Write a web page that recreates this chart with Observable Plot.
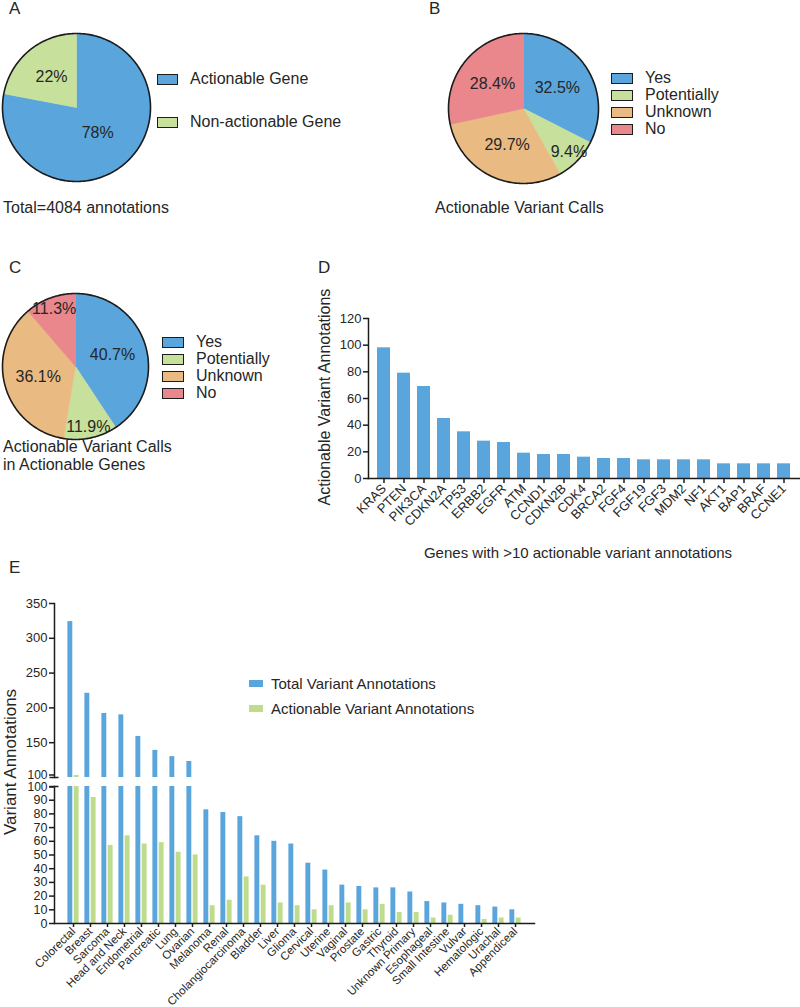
<!DOCTYPE html>
<html><head><meta charset="utf-8">
<script src="https://cdn.jsdelivr.net/npm/d3@7"></script>
<script src="https://cdn.jsdelivr.net/npm/@observablehq/plot@0.6"></script>
<style>
body{margin:0;background:#fff;font-family:"Liberation Sans",Arial,sans-serif;color:#262626;}
#root{position:relative;width:800px;height:1007px;overflow:hidden;background:#fff;}
.t{position:absolute;white-space:nowrap;line-height:1;}
.lg{position:absolute;}
.row{display:flex;align-items:center;white-space:nowrap;}
.sw{display:inline-block;box-sizing:border-box;flex:none;}
</style></head><body><div id="root"></div>
<script>
// ---------- DATA ----------
const geneCats = ["Actionable Gene", "Non-actionable Gene"];
const geneShare = [78, 22];
const callCats = ["Yes", "Potentially", "Unknown", "No"];
const callShare = [32.5, 9.4, 29.7, 28.4];
const callGeneShare = [40.7, 11.9, 36.1, 11.3];

const genes = ["KRAS","PTEN","PIK3CA","CDKN2A","TP53","ERBB2","EGFR","ATM","CCND1","CDKN2B","CDK4","BRCA2","FGF4","FGF19","FGF3","MDM2","NF1","AKT1","BAP1","BRAF","CCNE1"];
const geneCounts = [98,79,69,45,35,28,27,19,18,18,16,15,15,14,14,14,14,11,11,11,11];
const geneTicks = [0,20,40,60,80,100,120];

const cancers = ["Colorectal","Breast","Sarcoma","Head and Neck","Endometrial","Pancreatic","Lung","Ovarian","Melanoma","Renal","Cholangiocarcinoma","Bladder","Liver","Glioma","Cervical","Uterine","Vaginal","Prostate","Gastric","Thyroid","Unknown Primary","Esophageal","Small Intestine","Vulvar","Hematologic","Urachal","Appendiceal"];
const totalAnn = [324,221,192,190,159,139,130,123,83,81,78,64,60,58,44,39,28,27,26,26,23,16,15,14,13,12,10];
const actionAnn = [103,92,57,64,58,59,52,50,13,17,34,28,15,13,10,13,15,10,14,8,8,4,6,0,3,4,4];
const seriesE = ["Total Variant Annotations","Actionable Variant Annotations"];
const upperTicks = [100,150,200,250,300,350];
const lowerTicks = [0,10,20,30,40,50,60,70,80,90,100];
const breakTick = [100];

// ---------- STYLE ----------
const BLUE = "#5aa5dc", GREEN = "#c7e19c", TAN = "#e9bb83", PINK = "#e9878c", EGREEN = "#bfdc8c";
const INK = "#1c1c1c";
const FONT = "Liberation Sans, Arial, sans-serif";
const root = document.getElementById("root");

function place(el, left, top){ el.style.position="absolute"; el.style.left=left+"px"; el.style.top=top+"px"; el.style.overflow="visible"; root.appendChild(el); return el; }
function txt(s, left, top, fs, extra){ const d=document.createElement("div"); d.className="t"; d.textContent=s; d.style.left=left+"px"; d.style.top=top+"px"; d.style.fontSize=fs+"px"; if(extra) Object.assign(d.style, extra); root.appendChild(d); return d; }
function vtxt(s, cx, cy, fs){ const d=txt(s, cx, cy, fs); d.style.transform="translate(-50%,-50%) rotate(-90deg)"; return d; }
function legend(cats, colors, o){
  const box=document.createElement("div"); box.className="lg"; box.style.left=o.left+"px"; box.style.top=o.top+"px";
  cats.forEach((c,i)=>{
    const r=document.createElement("div"); r.className="row"; r.style.height=o.rowH+"px"; r.style.fontSize=o.fs+"px";
    const s=document.createElement("span"); s.className="sw"; s.style.width=o.sw+"px"; s.style.height=o.sh+"px"; s.style.background=colors[i]; s.style.marginRight=o.gap+"px";
    if(o.border) s.style.border=o.border;
    r.appendChild(s); const t=document.createElement("span"); t.textContent=c; r.appendChild(t); box.appendChild(r);
  });
  root.appendChild(box);
}

function pieChart(cats, values, colors, size){
  const total = d3.sum(values);
  let acc = 0; const slices = [];
  cats.forEach((c,i)=>{ const a0=acc/total*2*Math.PI; acc+=values[i]; const a1=acc/total*2*Math.PI; slices.push({cat:c, value:values[i], a0, a1}); });
  const poly = slices.flatMap(s=>{
    const n = Math.max(2, Math.ceil((s.a1-s.a0)*180/Math.PI));
    const arc = d3.range(n+1).map(k=>{ const a=s.a0+(s.a1-s.a0)*k/n; return {cat:s.cat, x:Math.sin(a), y:Math.cos(a)}; });
    return [{cat:s.cat,x:0,y:0}, ...arc, {cat:s.cat,x:0,y:0}];
  });
  const ring = d3.range(361).map(k=>({x:Math.sin(k*Math.PI/180), y:Math.cos(k*Math.PI/180)}));
  const labels = slices.map(s=>{
    const f=(s.a1-s.a0)/(2*Math.PI), m=(s.a0+s.a1)/2;
    const lr = f<0.15 ? 0.84 : f>0.6 ? 0.45 : 0.53;
    return {x:lr*Math.sin(m), y:lr*Math.cos(m), label:`${s.value}%`};
  });
  return Plot.plot({
    width:size, height:size, margin:2,
    x:{domain:[-1,1], axis:null}, y:{domain:[-1,1], axis:null},
    color:{domain:cats, range:colors},
    style:{fontFamily:FONT, background:"transparent", overflow:"visible"},
    marks:[
      Plot.line(poly, {x:"x", y:"y", z:"cat", fill:"cat", stroke:"cat", strokeWidth:0.6}),
      Plot.line(ring, {x:"x", y:"y", stroke:INK, strokeWidth:1.6}),
      Plot.text(labels, {x:"x", y:"y", text:"label", fontSize:16, fill:"#262626"})
    ]
  });
}

// ---------- PANEL A ----------
txt("A", 9, 0, 17);
place(pieChart(geneCats, geneShare, [BLUE, GREEN], 152), 0, 31);
legend(geneCats, [BLUE, GREEN], {left:157, top:57.5, rowH:43, sw:21, sh:11, gap:12, fs:16, border:"1.5px solid "+INK});
txt("Total=4084 annotations", 3, 199.5, 16);

// ---------- PANEL B ----------
txt("B", 429, 0, 17);
place(pieChart(callCats, callShare, [BLUE, GREEN, TAN, PINK], 154), 446, 31);
legend(callCats, [BLUE, GREEN, TAN, PINK], {left:611, top:69.5, rowH:17, sw:22, sh:11, gap:12, fs:16, border:"1.5px solid "+INK});
txt("Actionable Variant Calls", 435, 199.5, 16);

// ---------- PANEL C ----------
txt("C", 9, 258.5, 17);
place(pieChart(callCats, callGeneShare, [BLUE, GREEN, TAN, PINK], 150), 0, 291);
legend(callCats, [BLUE, GREEN, TAN, PINK], {left:162, top:333.5, rowH:17, sw:22, sh:11, gap:12, fs:16, border:"1.5px solid "+INK});
txt("Actionable Variant Calls", 3, 438.5, 16);
txt("in Actionable Genes", 3, 456.5, 16);

// ---------- PANEL D ----------
txt("D", 318, 258.5, 17);
const dData = genes.map((g,i)=>({gene:g, n:geneCounts[i]}));
place(Plot.plot({
  width:490, height:260, marginLeft:58, marginTop:18, marginBottom:82, marginRight:1,
  style:{fontFamily:FONT, fontSize:"13px", color:"#262626", background:"transparent", overflow:"visible"},
  x:{domain:genes, paddingInner:0.366, paddingOuter:0.2},
  y:{domain:[0,120]},
  marks:[
    Plot.barY(dData, {x:"gene", y:"n", fill:BLUE}),
    Plot.axisY({ticks:geneTicks, tickSize:5, strokeWidth:1.5, stroke:INK, fontSize:13, label:null, tickPadding:2}),
    Plot.axisX({tickSize:5, strokeWidth:1.5, stroke:INK, tickRotate:-45, fontSize:13, label:null, tickPadding:3}),
    Plot.frame({anchor:"left", stroke:INK, strokeWidth:1.5}),
    Plot.frame({anchor:"bottom", stroke:INK, strokeWidth:1.5})
  ]
}), 310, 300);
vtxt("Actionable Variant Annotations", 325, 397, 16);
txt("Genes with >10 actionable variant annotations", 578, 545, 15, {transform:"translateX(-50%)"});

// ---------- PANEL E ----------
txt("E", 9, 558.5, 17);
const eData = cancers.map((c,i)=>({c, total:totalAnn[i], act:actionAnn[i]}));
const xE = {domain:cancers, paddingInner:0.3, paddingOuter:0.2};
const EW = 800, EML = 54, EMR = 266;
const blueIn = {insetLeft:0.4, insetRight:6.7}, greenIn = {insetLeft:6.7, insetRight:0.4};
const axStyle = {strokeWidth:1.5, stroke:INK, label:null, tickPadding:2};
// upper segment (100-350)
place(Plot.plot({
  width:EW, height:184, marginLeft:EML, marginRight:EMR, marginTop:8, marginBottom:2,
  style:{fontFamily:FONT, fontSize:"13px", color:"#262626", background:"transparent", overflow:"visible"},
  x:{...xE, axis:null},
  y:{domain:[100,350]},
  marks:[
    Plot.barY(eData.filter(d=>d.total>100), {x:"c", y1:100, y2:"total", fill:BLUE, ...blueIn}),
    Plot.barY(eData.filter(d=>d.act>100), {x:"c", y1:100, y2:"act", fill:EGREEN, ...greenIn}),
    Plot.axisY({ticks:upperTicks.filter(v=>v>100), tickSize:5, fontSize:13, ...axStyle}),
    Plot.axisY({ticks:breakTick, tickSize:5, fontSize:12, ...axStyle, dy:-2.5}),
    Plot.axisY({ticks:breakTick, tickSize:9, dx:4.5, strokeWidth:1.5, stroke:INK, label:null, tickFormat:()=>""}),
    Plot.frame({anchor:"left", stroke:INK, strokeWidth:1.5})
  ]
}), 0, 595);
// lower segment (0-100)
place(Plot.plot({
  width:EW, height:227, marginLeft:EML, marginRight:EMR, marginTop:6, marginBottom:84,
  style:{fontFamily:FONT, fontSize:"12px", color:"#262626", background:"transparent", overflow:"visible"},
  x:xE,
  y:{domain:[0,100]},
  marks:[
    Plot.barY(eData, {x:"c", y:d=>Math.min(d.total,100), fill:BLUE, ...blueIn}),
    Plot.barY(eData, {x:"c", y:d=>Math.min(d.act,100), fill:EGREEN, ...greenIn}),
    Plot.axisY({ticks:lowerTicks.filter(v=>v<100), tickSize:5, fontSize:12.5, ...axStyle}),
    Plot.axisY({ticks:breakTick, tickSize:5, fontSize:12, ...axStyle, dy:0.5}),
    Plot.axisY({ticks:breakTick, tickSize:9, dx:4.5, strokeWidth:1.5, stroke:INK, label:null, tickFormat:()=>""}),
    Plot.axisX({tickSize:4, strokeWidth:1.5, stroke:INK, tickRotate:-45, fontSize:11.5, label:null, tickPadding:2}),
    Plot.frame({anchor:"left", stroke:INK, strokeWidth:1.5}),
    Plot.frame({anchor:"bottom", stroke:INK, strokeWidth:1.5})
  ]
}), 0, 780);
legend(seriesE, [BLUE, EGREEN], {left:249, top:671, rowH:25, sw:14, sh:7, gap:8, fs:15});
vtxt("Variant Annotations", 10, 762, 17);
</script></body></html>
